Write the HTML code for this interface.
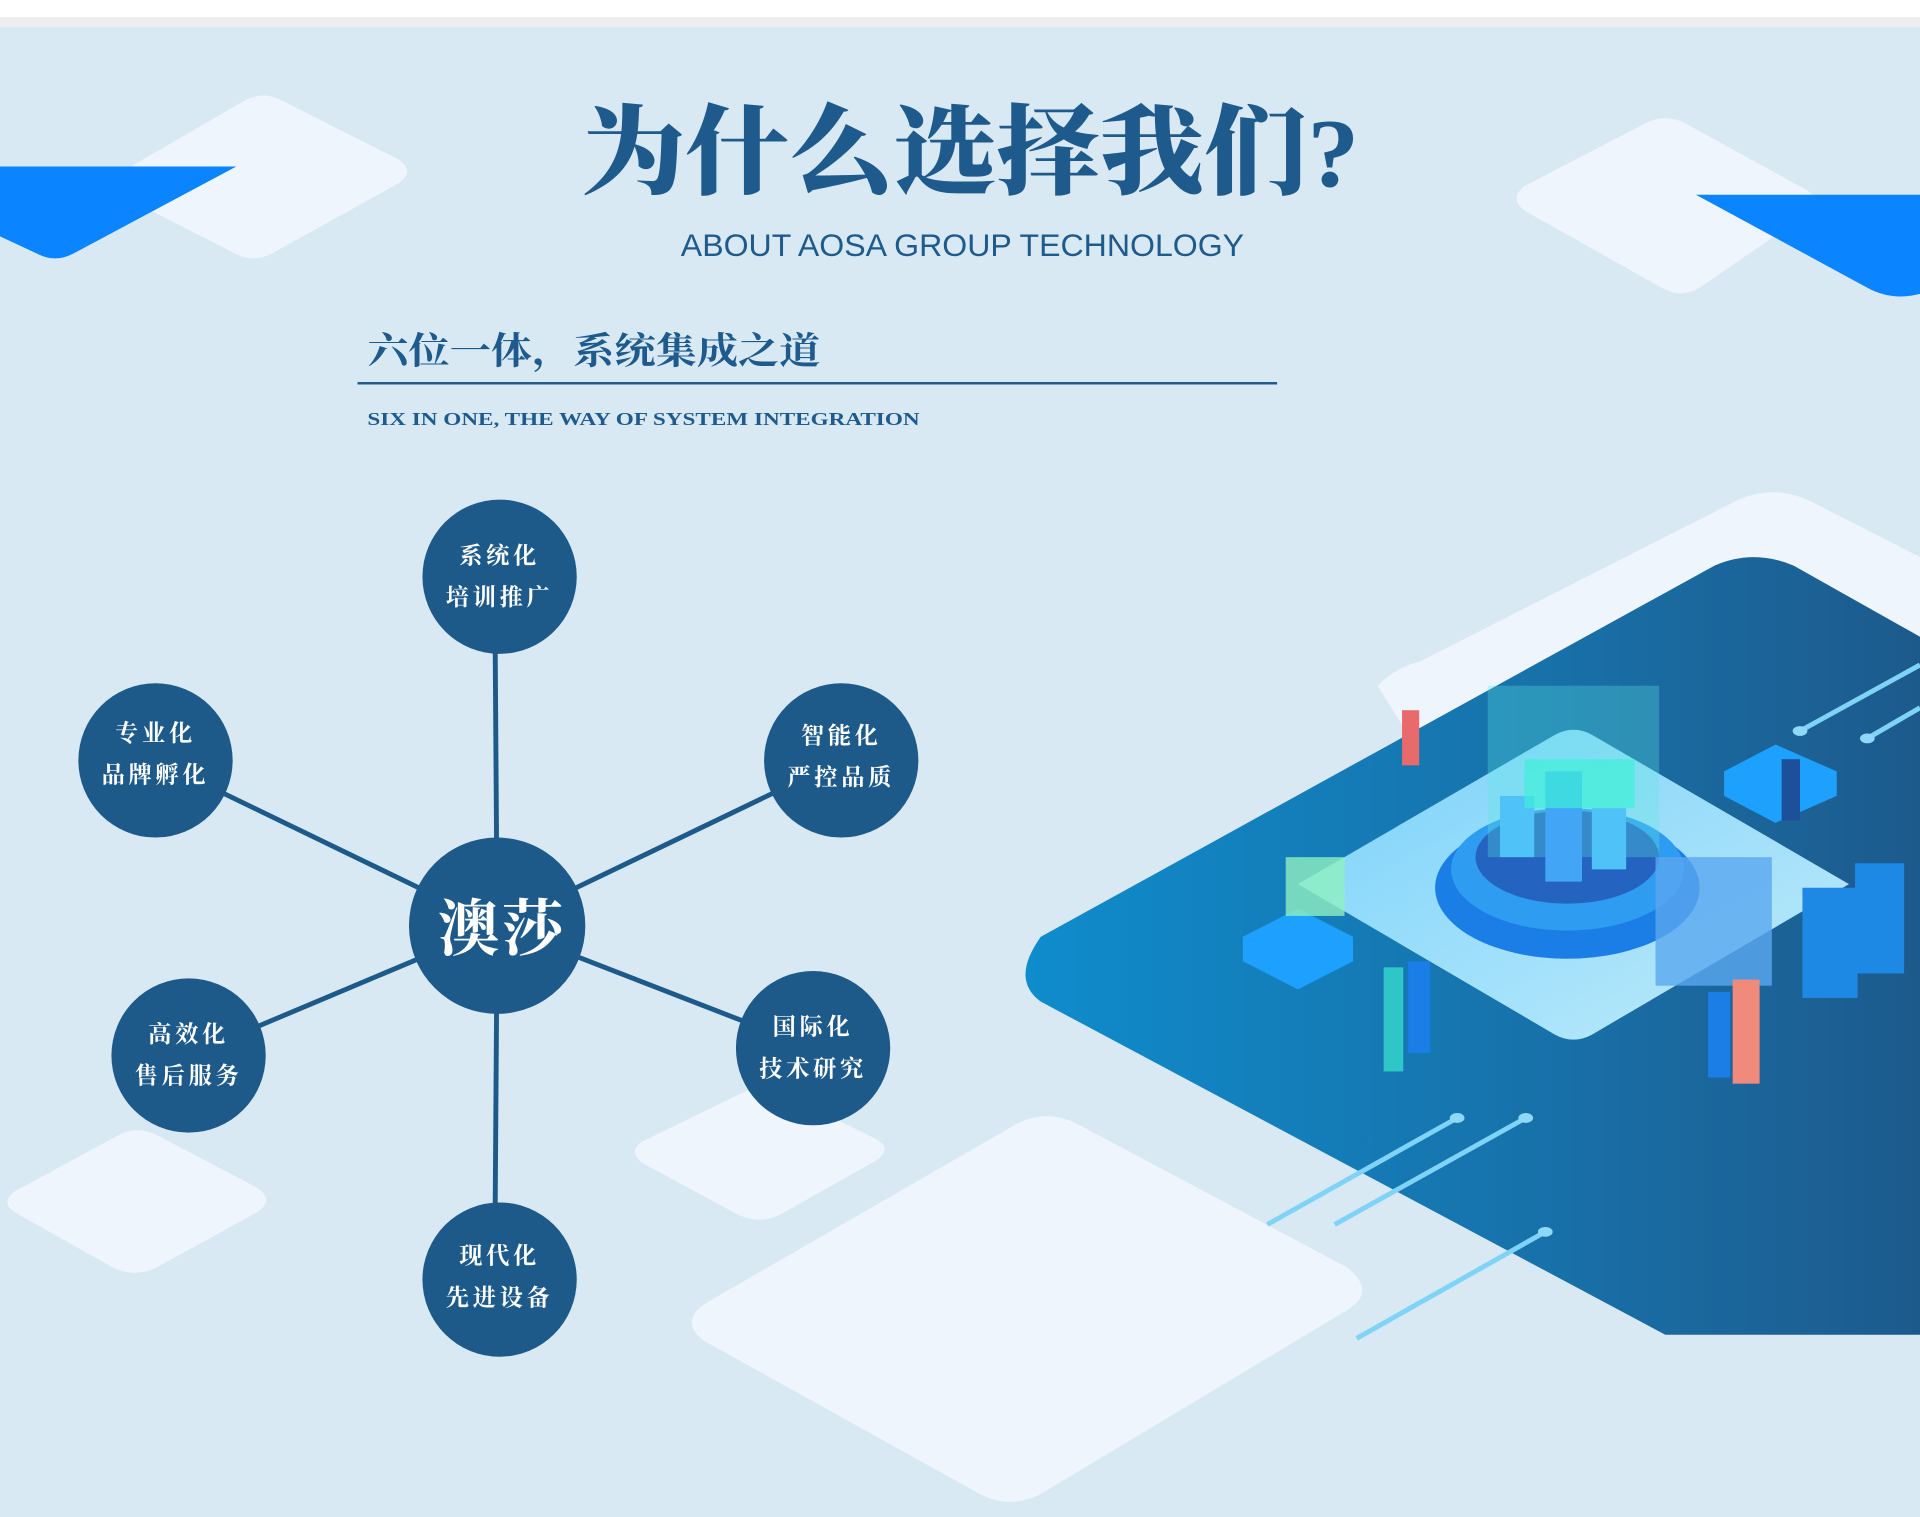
<!DOCTYPE html>
<html><head><meta charset="utf-8"><style>
html,body{margin:0;padding:0;}
body{width:1920px;height:1517px;overflow:hidden;background:#d8e9f3;}
#s{width:1568px;height:1239px;transform:scale(1.22449);transform-origin:0 0;position:relative;}
</style></head><body><div id="s">
<svg width="1568" height="1239" style="position:absolute;left:0;top:0">
<defs>
<linearGradient id="dk" x1="0" x2="1" y1="0" y2="0"><stop offset="0" stop-color="#0f8ccc"/><stop offset="0.6" stop-color="#1870a8"/><stop offset="1" stop-color="#1d5a8c"/></linearGradient>
<linearGradient id="pl" x1="0" x2="1" y1="0" y2="1"><stop offset="0" stop-color="#7fd6ff"/><stop offset="1" stop-color="#c8f2ff"/></linearGradient>
</defs>
<rect x="0" y="0" width="1568" height="14" fill="#fff"/>
<rect x="0" y="14" width="1568" height="8" fill="#eeeeee"/>
<path d="M200,82 Q215,74 230,82 L325,130 Q340,140 325,150 L222,207 Q207,215 192,207 L100,160 Q88,150 100,140 Z" fill="#eef5fc"/>
<path d="M0,136 L193,136 L60,207 Q45,215 30,207 L0,193 Z" fill="#0a84ff"/>
<path d="M1345,100 Q1360,93 1375,100 L1475,155 Q1490,165 1475,175 L1388,235 Q1372,244 1357,235 L1245,172 Q1232,162 1245,152 Z" fill="#eef5fc"/>
<path d="M1385,159 L1568,159 L1568,240 Q1545,246 1525,235 Z" fill="#0a84ff"/>
<path d="M95,928 Q112,918 130,928 L210,970 Q225,980 210,990 L128,1035 Q110,1044 92,1035 L12,990 Q0,982 12,973 Z" fill="#eef5fc"/>
<path d="M605,893 Q622,884 640,893 L715,930 Q730,938 715,948 L637,992 Q620,1000 603,992 L525,950 Q512,940 525,932 Z" fill="#eef5fc"/>
<path d="M1125,560 Q1140,545 1160,540 L1420,408 Q1450,395 1480,410 L1568,455 L1568,540 L1150,600 Z" fill="#eef5fc"/>
<path d="M850,765 L1400,462 Q1432,448 1465,462 L1568,520 L1568,1090 L1360,1090 L850,818 Q825,800 850,765 Z" fill="url(#dk)"/>
<path d="M830,918 Q855,905 880,918 L1100,1035 Q1125,1055 1100,1070 L850,1220 Q825,1233 800,1220 L575,1095 Q555,1080 575,1065 Z" fill="#eef5fc"/>
<path d="M1060,722 L1270,600 Q1285,592 1300,600 L1510,722 L1300,845 Q1285,853 1270,845 Z" fill="url(#pl)" opacity="0.95"/>
<ellipse cx="1280" cy="725" rx="108" ry="58" fill="#1a7ee6"/>
<ellipse cx="1280" cy="710" rx="95" ry="50" fill="#2e9cf0"/>
<ellipse cx="1280" cy="700" rx="75" ry="38" fill="#2563c0"/>
<rect x="1215" y="560" width="140" height="140" fill="#5ee8e0" opacity="0.3"/>
<rect x="1225" y="650" width="28" height="50" fill="#4fc3f7"/>
<rect x="1262" y="630" width="30" height="90" fill="#42a5f5"/>
<rect x="1300" y="660" width="28" height="50" fill="#4fc3f7"/>
<rect x="1245" y="620" width="90" height="40" fill="#3ff0d8" opacity="0.7"/>
<path d="M1015,765 L1060,742 L1105,765 L1105,785 L1060,808 L1015,785 Z" fill="#1ea0ff"/>
<rect x="1050" y="700" width="48" height="48" fill="#8ef0c0" opacity="0.8"/>
<rect x="1352" y="700" width="95" height="105" fill="#5aa8f0" opacity="0.8"/>
<path d="M1408,630 L1450,608 L1500,630 L1500,650 L1450,672 L1408,650 Z" fill="#1ea0ff"/>
<rect x="1472" y="725" width="45" height="90" fill="#1e88e5"/>
<rect x="1515" y="705" width="40" height="90" fill="#1e88e5"/>
<rect x="1145" y="580" width="14" height="45" fill="#e86a6a"/>
<rect x="1130" y="790" width="16" height="85" fill="#2ec6c6"/>
<rect x="1150" y="785" width="18" height="75" fill="#1a7ee6"/>
<rect x="1415" y="800" width="22" height="85" fill="#f08a7a"/>
<rect x="1395" y="810" width="18" height="70" fill="#1a7ee6"/>
<rect x="1455" y="620" width="15" height="50" fill="#1e4f9a"/>
<g stroke="#7fd3f7" stroke-width="4" fill="#8fd8fa">
<line x1="1035" y1="1000" x2="1190" y2="913"/><line x1="1090" y1="1000" x2="1246" y2="913"/><line x1="1108" y1="1093" x2="1262" y2="1006"/>
<line x1="1470" y1="597" x2="1568" y2="543"/><line x1="1525" y1="603" x2="1568" y2="578"/>
<ellipse cx="1190" cy="913" rx="6" ry="4" stroke="none"/><ellipse cx="1246" cy="913" rx="6" ry="4" stroke="none"/><ellipse cx="1262" cy="1006" rx="6" ry="4" stroke="none"/><ellipse cx="1470" cy="597" rx="6" ry="4" stroke="none"/><ellipse cx="1525" cy="603" rx="6" ry="4" stroke="none"/>
</g>
<rect x="292" y="312" width="751" height="2" fill="#1e5a8c"/>
<g stroke="#1d5a8a" stroke-width="4">
<line x1="406" y1="756" x2="404" y2="471"/><line x1="406" y1="756" x2="127" y2="621"/><line x1="406" y1="756" x2="687" y2="621"/>
<line x1="406" y1="756" x2="154" y2="862"/><line x1="406" y1="756" x2="664" y2="856"/><line x1="406" y1="756" x2="404" y2="1045"/>
</g>
<g fill="#1d5a8a">
<circle cx="406" cy="756" r="72"/><circle cx="408" cy="471" r="63"/><circle cx="127" cy="621" r="63"/><circle cx="687" cy="621" r="63"/>
<circle cx="154" cy="862" r="63"/><circle cx="664" cy="856" r="63"/><circle cx="408" cy="1045" r="63"/>
</g>
<g font-family="'Liberation Serif','Noto Serif CJK SC',serif" font-weight="bold" fill="#fff" font-size="19" text-anchor="middle" letter-spacing="3">
<text x="408" y="460">系统化</text><text x="408" y="494">培训推广</text>
<text x="127" y="605">专业化</text><text x="127" y="639">品牌孵化</text>
<text x="687" y="607">智能化</text><text x="687" y="641">严控品质</text>
<text x="154" y="851">高效化</text><text x="154" y="885">售后服务</text>
<text x="664" y="845">国际化</text><text x="664" y="879">技术研究</text>
<text x="408" y="1032">现代化</text><text x="408" y="1066">先进设备</text>
<text x="410" y="776" font-size="50" letter-spacing="2">澳莎</text>
</g>
<text x="475" y="152" textLength="635" lengthAdjust="spacingAndGlyphs" font-family="'Liberation Serif','Noto Serif CJK SC',serif" font-weight="900" font-size="80" fill="#1e5a8c">为什么选择我们?</text>
<text x="556" y="209" textLength="460" lengthAdjust="spacingAndGlyphs" font-family="'Liberation Sans',sans-serif" font-size="26" fill="#1e5a8c">ABOUT AOSA GROUP TECHNOLOGY</text>
<text x="300" y="297" textLength="370" lengthAdjust="spacingAndGlyphs" font-family="'Liberation Serif','Noto Serif CJK SC',serif" font-weight="bold" font-size="30" fill="#1e5a8c">六位一体，系统集成之道</text>
<text x="300" y="347" textLength="451" lengthAdjust="spacingAndGlyphs" font-family="'Liberation Serif',serif" font-weight="bold" font-size="15" fill="#1e5a8c">SIX IN ONE, THE WAY OF SYSTEM INTEGRATION</text>
</svg>
</div></body></html>
